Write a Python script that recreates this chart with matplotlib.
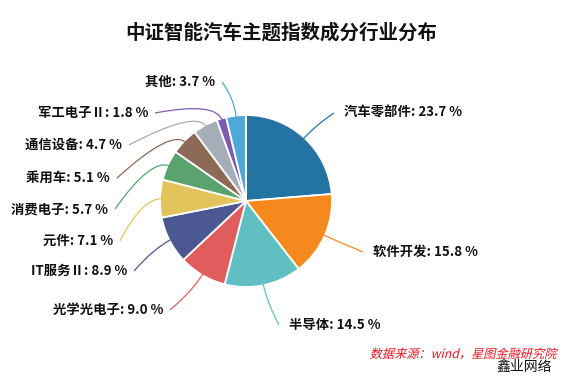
import numpy as np
import matplotlib.pyplot as plt
from matplotlib.path import Path
from matplotlib.patches import PathPatch
from matplotlib.textpath import TextPath
from matplotlib.font_manager import FontProperties
from matplotlib.transforms import Affine2D

plt.rcParams['font.family'] = ['Noto Sans CJK SC', 'DejaVu Sans']

# industry weights of the index (%)
industries = ['汽车零部件', '软件开发', '半导体', '光学光电子', 'IT服务Ⅱ', '元件',
              '消费电子', '乘用车', '通信设备', '军工电子Ⅱ', '其他']
weights = [23.7, 15.8, 14.5, 9.0, 8.9, 7.1, 5.7, 5.1, 4.7, 1.8, 3.7]
colors = ['#2474a3', '#f5891d', '#5fbfc2', '#e15d5d', '#4b5891', '#e3c45c',
          '#5aa36e', '#8d6a55', '#a4adb8', '#7e5bb0', '#4ea8da']

# label anchor points (pixels from top-left), layout only
label_xy = [(334, 113), (363, 252), (279, 325), (170, 310), (134, 271),
            (120, 241), (115, 209), (117, 178), (129, 145), (155, 113), (222, 82)]

W, H = 563, 376
fig = plt.figure(figsize=(W / 100, H / 100), dpi=100)
ax = fig.add_axes([0, 0, 1, 1])

cx, cy, r = 246, H - 201, 86
wedges, _ = ax.pie(weights, colors=colors, startangle=90, counterclock=False,
                   center=(cx, cy), radius=r,
                   wedgeprops=dict(edgecolor='white', linewidth=1.3))
ax.set_xlim(0, W)
ax.set_ylim(0, H)
ax.set_aspect('equal')
ax.axis('off')

for w, name, val, col, (lx, ly) in zip(wedges, industries, weights, colors, label_xy):
    ang = np.deg2rad((w.theta1 + w.theta2) / 2)
    x0, y0 = cx + (r - 2) * np.cos(ang), cy + (r - 2) * np.sin(ang)
    x1, y1 = cx + (r + 18) * np.cos(ang), cy + (r + 18) * np.sin(ang)
    ly = H - ly
    right = np.cos(ang) >= 0
    path = Path([(x0, y0), (x1, y1), (lx, ly)], [Path.MOVETO, Path.CURVE3, Path.CURVE3])
    ax.add_patch(PathPatch(path, fc='none', ec=col, lw=0.9))
    ax.text(lx + (10 if right else -7), ly, f'{name}: {val:.1f} %',
            ha='left' if right else 'right', va='center',
            fontsize=9.6, fontweight='bold', color='#111111')

fig.text(0.5, 1 - 33 / H, '中证智能汽车主题指数成分行业分布', ha='center', va='center',
         fontsize=14, fontweight='bold', color='#111111')

# italic source note (CJK font has no italic, so skew the glyph outlines)
src = '数据来源：wind，星图金融研究院'
tp = TextPath((0, 0), src, size=12.2, prop=FontProperties(family='Noto Sans CJK SC'))
ext = tp.get_extents()
tr = Affine2D().translate(-ext.x1, 0).skew_deg(14, 0).translate(556, H - 358)
ax.add_patch(PathPatch(tr.transform_path(tp), fc='#e8141e', ec='none'))

fig.text(552 / W, 1 - 367 / H, '鑫业网络', ha='right', va='center',
         fontsize=10, color='#111111')

fig.savefig('out.png', dpi=100, facecolor='white')
